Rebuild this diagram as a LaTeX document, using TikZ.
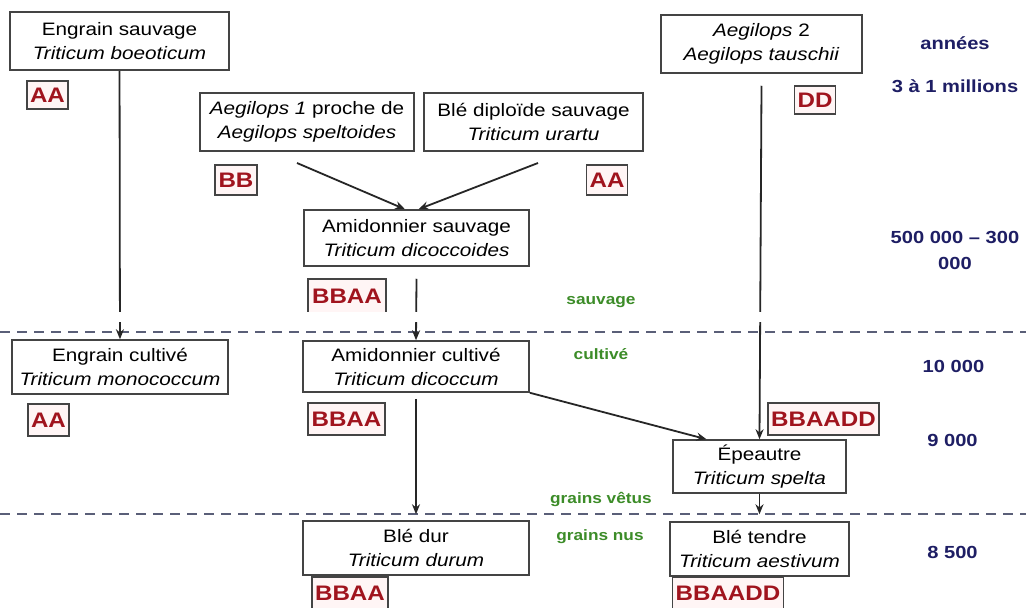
\documentclass[tikz,border=0pt]{standalone}
\usepackage{fontspec}
\setmainfont[FakeStretch=1.15]{Liberation Sans}
\usetikzlibrary{arrows.meta}
\definecolor{boxline}{HTML}{444444}
\definecolor{genred}{HTML}{A0141E}
\definecolor{navy}{HTML}{1E1E64}
\definecolor{grn}{HTML}{3C8C28}
\definecolor{dashc}{HTML}{5A5F78}
\begin{document}
\begin{tikzpicture}[x=1pt,y=-1pt,
 sp/.style={draw=boxline, line width=1.5pt, fill=white, inner sep=0pt, align=center, font=\fontsize{18}{24}\selectfont},
 gen/.style={draw=boxline, line width=1.4pt, fill=red!4, text=genred, font=\fontsize{21}{21}\selectfont\bfseries, inner xsep=3pt, inner ysep=0pt, minimum height=30pt},
 yr/.style={text=navy, font=\fontsize{17.5}{26}\selectfont\bfseries, align=center},
 stage/.style={text=grn, font=\fontsize{15}{15}\selectfont\bfseries},
 arr/.style={-{Stealth[length=10pt,width=8pt]}, line width=1.8pt, draw=black!85},
 divider/.style={draw=dashc, line width=2.5pt, dash pattern=on 10pt off 7pt}]
\useasboundingbox (0,0) rectangle (1026,608);
\fill[white] (0,0) rectangle (1026,608);
% dividers
\draw[divider] (0,332) -- (1026,332);
\draw[divider] (0,514) -- (1026,514);
% species boxes
\node[sp, minimum width=219pt, minimum height=58pt] (es) at (119.5,41) {Engrain sauvage\\\textit{Triticum boeoticum}};
\node[sp, minimum width=214pt, minimum height=58pt] (a1) at (307,122) {\textit{Aegilops 1} proche de\\\textit{Aegilops speltoides}};
\node[sp, minimum width=219pt, minimum height=58pt] (bd) at (533.5,122) {Blé diploïde sauvage\\\textit{Triticum urartu}};
\node[sp, minimum width=225pt, minimum height=56pt] (ams) at (416.5,238) {Amidonnier sauvage\\\textit{Triticum dicoccoides}};
\node[sp, minimum width=201pt, minimum height=58pt] (a2) at (761.5,44) {\textit{Aegilops} 2\\\textit{Aegilops tauschii}};
\node[sp, minimum width=216pt, minimum height=54pt] (ec) at (120,367) {Engrain cultivé\\\textit{Triticum monococcum}};
\node[sp, minimum width=226pt, minimum height=51pt] (amc) at (416,366.5) {Amidonnier cultivé\\\textit{Triticum dicoccum}};
\node[sp, minimum width=173pt, minimum height=53pt] (ep) at (759.5,466.5) {Épeautre\\\textit{Triticum spelta}};
\node[sp, minimum width=226pt, minimum height=54pt] (bdur) at (416,548) {Blé dur\\\textit{Triticum durum}};
\node[sp, minimum width=179pt, minimum height=54pt] (bt) at (759.5,549) {Blé tendre\\\textit{Triticum aestivum}};
% connectors
\coordinate (a1s) at (297,163);
\coordinate (bds) at (538,163);
\draw[arr] (es) -- (ec);
\draw[arr] (a1s) -- ([xshift=-11.5pt]ams.north);
\draw[arr] (bds) -- ([xshift=2pt]ams.north);
\draw[arr] ([yshift=-12pt]ams.south) -- (amc.north);
\draw[arr, shorten >=6pt] ([yshift=-6pt]amc.south) -- (bdur.north);
\draw[arr] (amc.south east) -- ([xshift=-53pt]ep.north);
\draw[arr] ([yshift=-12pt]a2.south) -- (ep.north);
\draw[arr, shorten >=7pt] (ep.south) -- (bt.north);
% genome labels
\node[gen, minimum width=41pt, minimum height=28pt] (gAA1) at (47.5,95) {AA};
\node[gen, minimum width=42pt] (gBB) at (236,180) {BB};
\node[gen, minimum width=41pt] (gAA2) at (607,180) {AA};
\node[gen, minimum width=37pt, minimum height=28pt] (gDD) at (815,100) {DD};
\node[gen, minimum width=78pt, minimum height=34pt] (gBBAA1) at (347,296) {BBAA};
\node[gen, minimum width=41pt, minimum height=32pt] (gAA3) at (48.5,420) {AA};
\node[gen, minimum width=77pt, minimum height=32pt] (gBBAA2) at (346.5,419) {BBAA};
\node[gen, minimum width=111pt, minimum height=32pt] (gBBAADD1) at (823.5,419) {BBAADD};
\node[gen, minimum width=75pt, minimum height=32pt] (gBBAA3) at (350,593) {BBAA};
\node[gen, minimum width=110pt, minimum height=32pt] (gBBAADD2) at (728,593) {BBAADD};
% stage labels
\node[stage] (s1) at (601,302) {sauvage};
\node[stage] (s2) at (601,354) {cultivé};
\node[stage] (s3) at (601,499) {grains vêtus};
\node[stage] (s4) at (600,537) {grains nus};
% years
\node[yr] (y1) at (955,43) {années};
\node[yr] (y2) at (955,86) {3 à 1 millions};
\node[yr] (y3) at (955,250) {500 000 – 300\\000};
\node[yr] (y4) at (953.5,366) {10 000};
\node[yr] (y5) at (952.5,440) {9 000};
\node[yr] (y6) at (952.5,552) {8 500};
% scan artefact band
\fill[white] (112,312) rectangle (770,322);
\end{tikzpicture}
\end{document}
